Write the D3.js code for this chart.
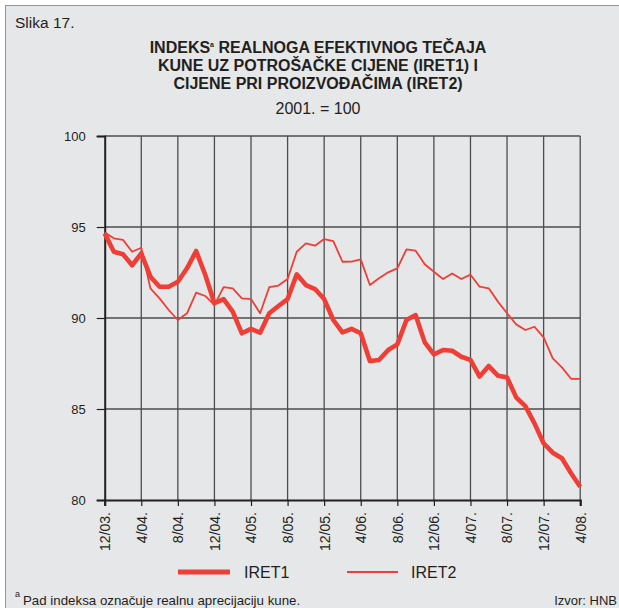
<!DOCTYPE html>
<html>
<head>
<meta charset="utf-8">
<script src="https://cdn.jsdelivr.net/npm/d3@7"></script>
<style>
  body { margin: 0; background: #fff; }
  svg { display: block; font-family: "Liberation Sans", Arial, sans-serif; }
</style>
</head>
<body>
<script>
// Monthly data, 12/2003 - 4/2008
var months = ["12/03.","1/04.","2/04.","3/04.","4/04.","5/04.","6/04.","7/04.","8/04.","9/04.","10/04.","11/04.",
  "12/04.","1/05.","2/05.","3/05.","4/05.","5/05.","6/05.","7/05.","8/05.","9/05.","10/05.","11/05.",
  "12/05.","1/06.","2/06.","3/06.","4/06.","5/06.","6/06.","7/06.","8/06.","9/06.","10/06.","11/06.",
  "12/06.","1/07.","2/07.","3/07.","4/07.","5/07.","6/07.","7/07.","8/07.","9/07.","10/07.","11/07.",
  "12/07.","1/08.","2/08.","3/08.","4/08."];

var iret1 = [94.65, 93.64, 93.5, 92.9, 93.55, 92.27, 91.72, 91.72, 91.99, 92.73, 93.68, 92.36,
  90.81, 91.04, 90.35, 89.16, 89.4, 89.19, 90.26, 90.66, 91.04, 92.4, 91.81, 91.59,
  91.04, 89.89, 89.21, 89.4, 89.16, 87.64, 87.69, 88.24, 88.55, 89.89, 90.16, 88.66,
  88.0, 88.24, 88.2, 87.87, 87.7, 86.78, 87.36, 86.83, 86.74, 85.64, 85.16, 84.21,
  83.11, 82.6, 82.29, 81.47, 80.73];

var iret2 = [94.7, 94.38, 94.29, 93.64, 93.86, 91.63, 91.08, 90.44, 89.89, 90.26, 91.39, 91.21,
  90.71, 91.7, 91.63, 91.08, 91.04, 90.26, 91.7, 91.78, 92.14, 93.64, 94.1, 93.97,
  94.34, 94.23, 93.09, 93.1, 93.22, 91.81, 92.18, 92.51, 92.73, 93.77, 93.7, 92.95,
  92.54, 92.14, 92.45, 92.14, 92.38, 91.72, 91.63, 90.9, 90.26, 89.65, 89.34, 89.52,
  88.94, 87.78, 87.29, 86.66, 86.66];

var yTicks = [80, 85, 90, 95, 100];
var xTickIdx = [0, 4, 8, 12, 16, 20, 24, 28, 32, 36, 40, 44, 48, 52];

var width = 619, height = 608;
var red = "#ef3e36",
    ink = "#231f20";

var svg = d3.select("body").append("svg")
    .attr("width", width)
    .attr("height", height);

// background panel with red edge
svg.append("rect")
    .attr("x", 5.5).attr("y", 5.5)
    .attr("width", width + 10).attr("height", height + 10)
    .attr("fill", "#e6e7e9")
    .attr("stroke", "#f2705f")
    .attr("stroke-width", 1);

var x = d3.scaleLinear().domain([0, months.length - 1]).range([104.7, 580.2]);
var y = d3.scaleLinear().domain([80, 100]).range([500, 136]);

// title
svg.append("text").attr("x", 15).attr("y", 28)
    .attr("font-size", 15.5).attr("fill", ink).text("Slika 17.");

var title = svg.append("text")
    .attr("text-anchor", "middle")
    .attr("font-size", 16)
    .attr("font-weight", "bold")
    .attr("fill", ink);
var t1 = title.append("tspan").attr("x", 318).attr("y", 53);
t1.append("tspan").text("INDEKS");
t1.append("tspan").attr("font-size", 7).attr("dy", -6).text("a");
t1.append("tspan").attr("dy", 6).text(" REALNOGA EFEKTIVNOG TEČAJA");
title.append("tspan").attr("x", 318).attr("y", 71).text("KUNE UZ POTROŠAČKE CIJENE (IRET1) I");
title.append("tspan").attr("x", 318).attr("y", 89).text("CIJENE PRI PROIZVOĐAČIMA (IRET2)");

svg.append("text").attr("x", 318).attr("y", 114)
    .attr("text-anchor", "middle").attr("font-size", 16)
    .attr("fill", ink).text("2001. = 100");

// grid
var grid = svg.append("g").attr("stroke", "#4d4d4d").attr("stroke-width", 1.3);
grid.selectAll("line.v")
    .data(xTickIdx.slice(1))
    .enter().append("line")
        .attr("x1", function(d) { return x(d); })
        .attr("x2", function(d) { return x(d); })
        .attr("y1", y(100)).attr("y2", y(80));
grid.selectAll("line.h")
    .data(yTicks.slice(1))
    .enter().append("line")
        .attr("x1", x(0)).attr("x2", x(52))
        .attr("y1", function(d) { return y(d); })
        .attr("y2", function(d) { return y(d); });

// axes
var yAxis = svg.append("g")
    .attr("transform", "translate(" + x(0) + ",0)")
    .call(d3.axisLeft(y).tickValues(yTicks).tickSize(8).tickPadding(11));
yAxis.select(".domain").attr("stroke", ink).attr("stroke-width", 2);
yAxis.selectAll(".tick line").attr("stroke", ink).attr("stroke-width", 1.2);
yAxis.selectAll("text").attr("font-size", 13).attr("fill", ink)
    .attr("font-family", "Liberation Sans, Arial, sans-serif");

var xAxis = svg.append("g")
    .attr("transform", "translate(0," + y(80) + ")")
    .call(d3.axisBottom(x).tickValues(xTickIdx).tickSize(6)
        .tickFormat(function(d) { return months[d]; }));
xAxis.select(".domain").attr("stroke", ink).attr("stroke-width", 2.2);
xAxis.selectAll(".tick line").attr("stroke", ink).attr("stroke-width", 1.2);
xAxis.selectAll("text")
    .attr("font-size", 14).attr("fill", ink)
    .attr("font-family", "Liberation Sans, Arial, sans-serif")
    .attr("transform", "rotate(-90)")
    .attr("text-anchor", "end")
    .attr("x", -12).attr("y", 0).attr("dy", "0.35em");

// series
var line = d3.line()
    .x(function(d, i) { return x(i); })
    .y(function(d) { return y(d); });

svg.append("path").datum(iret2)
    .attr("fill", "none").attr("stroke", red)
    .attr("stroke-width", 1.8).attr("stroke-linejoin", "round")
    .attr("d", line);

svg.append("path").datum(iret1)
    .attr("fill", "none").attr("stroke", red)
    .attr("stroke-width", 4.6).attr("stroke-linejoin", "round")
    .attr("d", line);

// legend
var legend = svg.append("g").attr("font-size", 16).attr("fill", ink);
legend.append("line").attr("x1", 178).attr("x2", 230).attr("y1", 572).attr("y2", 572)
    .attr("stroke", red).attr("stroke-width", 5);
legend.append("text").attr("x", 244).attr("y", 578).text("IRET1");
legend.append("line").attr("x1", 347).attr("x2", 398).attr("y1", 572).attr("y2", 572)
    .attr("stroke", red).attr("stroke-width", 1.8);
legend.append("text").attr("x", 411).attr("y", 578).text("IRET2");

// footnote
svg.append("text").attr("x", 15).attr("y", 597)
    .attr("font-size", 9).attr("fill", ink).text("a");
svg.append("text").attr("x", 23).attr("y", 605)
    .attr("font-size", 13.3).attr("fill", ink)
    .text("Pad indeksa označuje realnu aprecijaciju kune.");
svg.append("text").attr("x", 617).attr("y", 605)
    .attr("text-anchor", "end").attr("font-size", 13).attr("fill", ink)
    .text("Izvor: HNB");
</script>
</body>
</html>
